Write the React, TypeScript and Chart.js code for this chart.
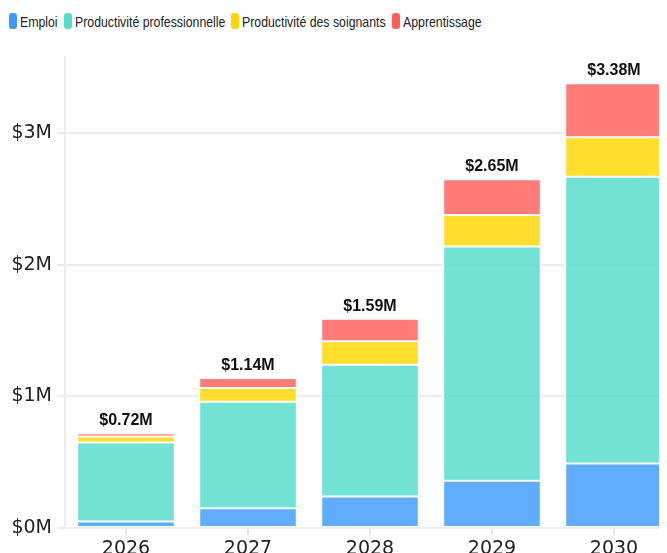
import React, { useEffect, useRef } from "react";
import { Chart, registerables } from "chart.js";

Chart.register(...registerables);

const years = ["2026", "2027", "2028", "2029", "2030"];
const emploi = [0.05, 0.15, 0.24, 0.36, 0.49];
const productivitePro = [0.6, 0.81, 1.0, 1.78, 2.18];
const productiviteSoignants = [0.045, 0.105, 0.18, 0.24, 0.3];
const apprentissage = [0.025, 0.075, 0.17, 0.27, 0.41];
const yTicks = [0, 1, 2, 3];

const seriesNames = ["Emploi", "Productivité professionnelle", "Productivité des soignants", "Apprentissage"];
const legendColors = ["#3D9BFF", "#52DCC9", "#FFD700", "#FF5F5B"];
const barColors = ["rgba(61,155,255,0.82)", "rgba(82,220,201,0.82)", "rgba(255,215,0,0.82)", "rgba(255,95,91,0.82)"];

const AXIS_FONT = "'DejaVu Sans', sans-serif";
const LEGEND_FONT = "'Liberation Sans', Arial, sans-serif";
const LEGEND_SCALE = 0.82;

const totalsPlugin = {
  id: "totals",
  afterDatasetsDraw(chart: any) {
    const ctx = chart.ctx;
    const lastIndex = chart.data.datasets.length - 1;
    const meta = chart.getDatasetMeta(lastIndex);
    ctx.save();
    ctx.font = "bold 16px 'Liberation Sans', Arial, sans-serif";
    ctx.fillStyle = "#111";
    ctx.textAlign = "center";
    ctx.textBaseline = "alphabetic";
    meta.data.forEach((bar: any, i: number) => {
      let total = 0;
      chart.data.datasets.forEach((ds: any) => (total += ds.data[i]));
      ctx.fillText(`$${total.toFixed(2)}M`, bar.x, bar.y - 8);
    });
    ctx.restore();
  },
};

function measure(text: string): number {
  const c = document.createElement("canvas").getContext("2d");
  if (!c) return text.length * 7;
  c.font = `15px ${LEGEND_FONT}`;
  return c.measureText(text).width;
}

export default function App() {
  const ref = useRef<HTMLCanvasElement | null>(null);

  useEffect(() => {
    if (!ref.current) return;
    const seriesData = [emploi, productivitePro, productiviteSoignants, apprentissage];
    const chart = new Chart(ref.current, {
      type: "bar",
      data: {
        labels: years,
        datasets: seriesData.map((d, i) => ({
          label: seriesNames[i],
          data: d,
          backgroundColor: barColors[i],
          borderColor: "#ffffff",
          borderWidth: 1,
          borderSkipped: false,
          barPercentage: 1,
          categoryPercentage: 0.8,
        })),
      },
      options: {
        animation: false,
        responsive: true,
        maintainAspectRatio: false,
        layout: { padding: { top: 23, left: 0, right: 0, bottom: 0 } },
        plugins: {
          legend: { display: false },
          tooltip: { enabled: false },
        },
        scales: {
          x: {
            stacked: true,
            grid: {
              drawOnChartArea: false,
              drawTicks: true,
              tickLength: 7,
              offset: false,
              color: "#e6e6e6",
              lineWidth: 2,
            },
            border: { display: true, color: "#ececec", width: 2 },
            ticks: {
              color: "#222",
              font: { family: AXIS_FONT, size: 19 },
              padding: 3,
            },
            afterFit: (scale: any) => {
              scale.height = 40;
            },
          },
          y: {
            stacked: true,
            min: 0,
            max: 3.58,
            grid: {
              color: "#ececec",
              lineWidth: 2,
              tickLength: 8,
            },
            border: { display: true, color: "#ececec", width: 2 },
            ticks: {
              stepSize: 1,
              color: "#222",
              font: { family: AXIS_FONT, size: 19 },
              padding: 5,
              callback: (v: any) => `$${v}M`,
            },
            afterBuildTicks: (scale: any) => {
              scale.ticks = yTicks.map((v) => ({ value: v }));
            },
            afterFit: (scale: any) => {
              scale.width = 57;
            },
          },
        },
      },
      plugins: [totalsPlugin],
    });
    return () => chart.destroy();
  }, []);

  return (
    <div>
      <style>{`html,body{overflow:hidden;}`}</style>
      <div
        style={{
          display: "flex",
          alignItems: "center",
          height: 26,
          paddingLeft: 1,
          fontFamily: LEGEND_FONT,
          fontSize: 15,
          color: "#222",
          whiteSpace: "nowrap",
        }}
      >
        {seriesNames.map((name, i) => (
          <span key={name} style={{ display: "flex", alignItems: "center", marginRight: 6 }}>
            <span
              style={{
                display: "inline-block",
                width: 8,
                height: 16,
                borderRadius: 3,
                background: legendColors[i],
                marginRight: 3,
              }}
            />
            <span
              style={{
                display: "inline-block",
                width: Math.round(measure(name) * LEGEND_SCALE),
                overflow: "visible",
              }}
            >
              <span
                style={{
                  display: "inline-block",
                  transform: `scaleX(${LEGEND_SCALE})`,
                  transformOrigin: "left center",
                }}
              >
                {name}
              </span>
            </span>
          </span>
        ))}
      </div>
      <div style={{ position: "relative", width: 667, height: 534 }}>
        <canvas ref={ref} />
      </div>
    </div>
  );
}
